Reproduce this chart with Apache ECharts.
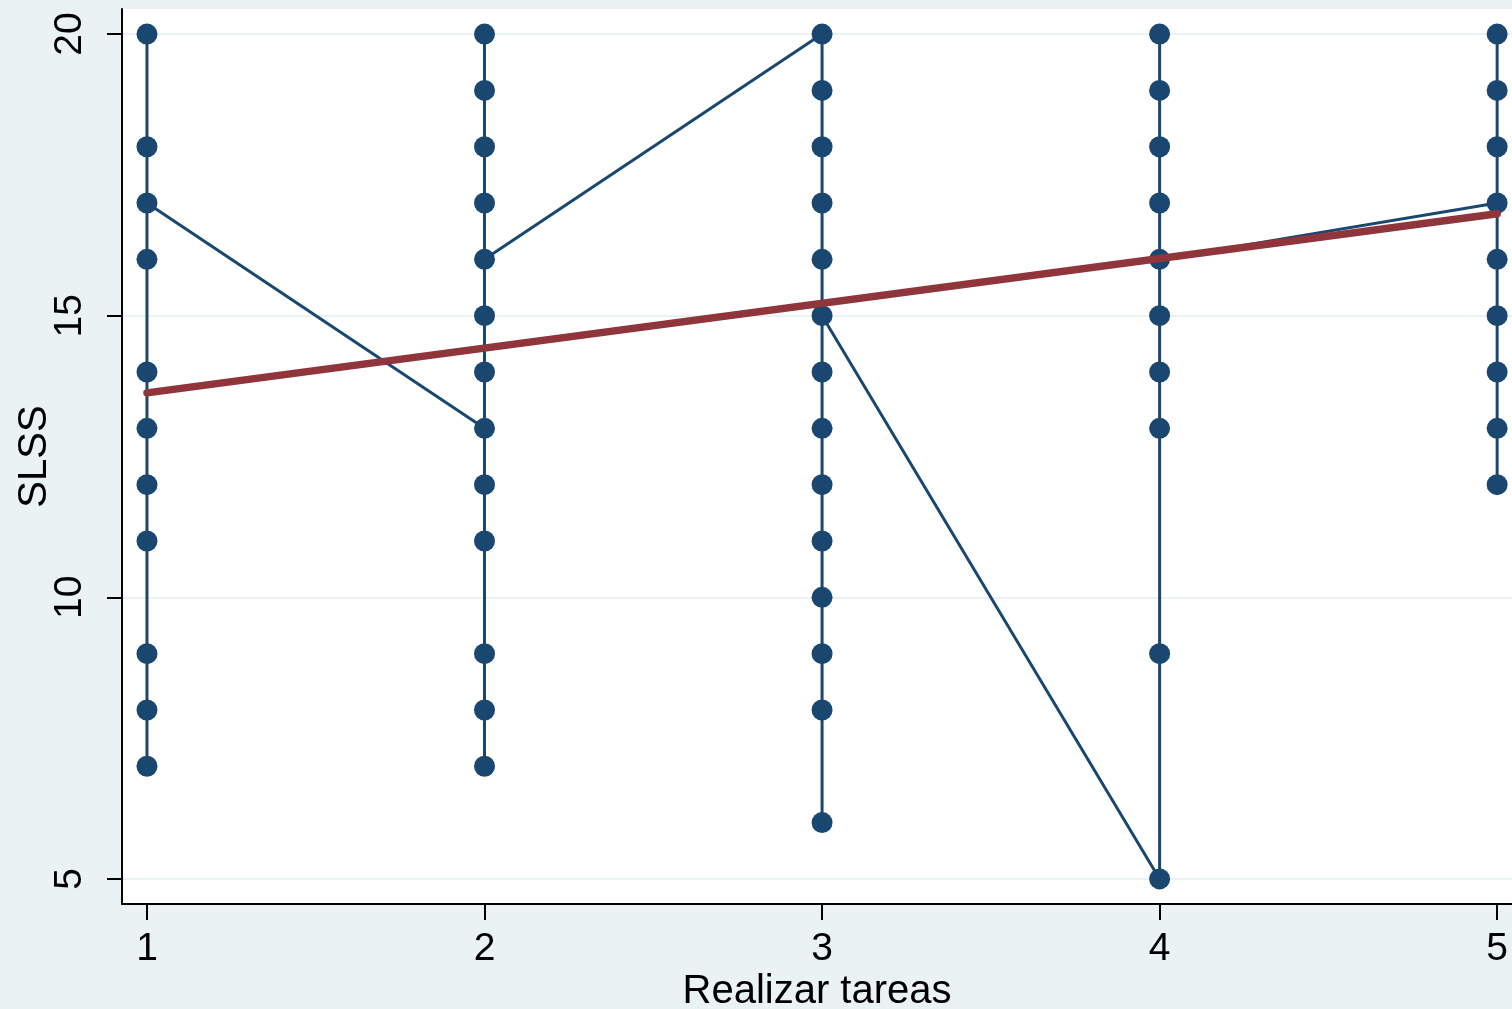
<!DOCTYPE html>
<html>
<head>
<meta charset="utf-8">
<script src="https://cdn.jsdelivr.net/npm/echarts@6/dist/echarts.min.js"></script>
<style>
html,body{margin:0;padding:0;background:#eaf2f3;}
#chart{width:1512px;height:1009px;}
</style>
</head>
<body>
<div id="chart"></div>
<script>
// Observations, in the order they are connected (sorted by Realizar tareas)
const group1X = [1,1,1,1,1,1,1,1,1,1,1];
const group1Y = [7,8,9,11,12,13,14,16,18,20,17];
const group2X = [2,2,2,2,2,2,2,2,2,2,2,2,2];
const group2Y = [13,7,8,9,11,12,14,15,17,18,19,20,16];
const group3X = [3,3,3,3,3,3,3,3,3,3,3,3,3,3];
const group3Y = [20,6,8,9,10,11,12,13,14,16,17,18,19,15];
const group4X = [4,4,4,4,4,4,4,4,4,4];
const group4Y = [5,9,13,14,15,17,18,19,20,16];
const group5X = [5,5,5,5,5,5,5,5,5];
const group5Y = [17,12,13,14,15,16,18,19,20];

// Fitted values (linear fit)
const fitX = [1, 5];
const fitY = [13.63, 16.81];

const xTicks = [1, 2, 3, 4, 5];
const yTicks = [5, 10, 15, 20];

const allX = [].concat(group1X, group2X, group3X, group4X, group5X);
const allY = [].concat(group1Y, group2Y, group3Y, group4Y, group5Y);
const obs = allX.map((x, i) => [x, allY[i]]);
const fit = fitX.map((x, i) => [x, fitY[i]]);

const navy = '#1a476f';
const maroon = '#90353b';
const font = '"Liberation Sans", Arial, Helvetica, sans-serif';

const chart = echarts.init(document.getElementById('chart'), null, {renderer: 'canvas'});
chart.setOption({
  backgroundColor: '#eaf2f3',
  animation: false,
  grid: {
    left: 122, top: 9, right: 0, bottom: 105,
    outerBoundsMode: 'none',
    containLabel: false,
    show: true, backgroundColor: '#ffffff', borderWidth: 0
  },
  xAxis: {
    type: 'value',
    min: 0.926, max: 5.044,
    name: 'Realizar tareas',
    nameLocation: 'middle',
    nameGap: 68,
    nameMoveOverlap: false,
    nameTextStyle: {color: '#000', fontSize: 40, fontFamily: font},
    axisLine: {show: true, onZero: false, lineStyle: {color: '#000', width: 2}},
    axisTick: {show: true, length: 16, lineStyle: {color: '#000', width: 2}, customValues: xTicks},
    axisLabel: {color: '#000', fontSize: 39, fontFamily: font, margin: 26, customValues: xTicks},
    splitLine: {show: false}
  },
  yAxis: {
    type: 'value',
    min: 4.555, max: 20.445,
    name: 'SLSS',
    nameLocation: 'middle',
    nameRotate: 90,
    nameGap: 67,
    nameMoveOverlap: false,
    nameTextStyle: {color: '#000', fontSize: 40, fontFamily: font},
    axisLine: {show: true, onZero: false, lineStyle: {color: '#000', width: 2}},
    axisTick: {show: true, length: 15, lineStyle: {color: '#000', width: 2}, customValues: yTicks},
    axisLabel: {color: '#000', fontSize: 39, fontFamily: font, margin: 32, rotate: 90, customValues: yTicks},
    splitLine: {show: true, lineStyle: {color: '#eaf2f3', width: 2}}
  },
  series: [
    {
      type: 'line',
      data: obs,
      symbol: 'circle',
      symbolSize: 21,
      showAllSymbol: true,
      lineStyle: {color: navy, width: 3},
      itemStyle: {color: navy},
      z: 2
    },
    {
      type: 'line',
      data: fit,
      symbol: 'none',
      lineStyle: {color: maroon, width: 7.5, cap: 'round'},
      z: 3
    }
  ]
});
</script>
</body>
</html>
